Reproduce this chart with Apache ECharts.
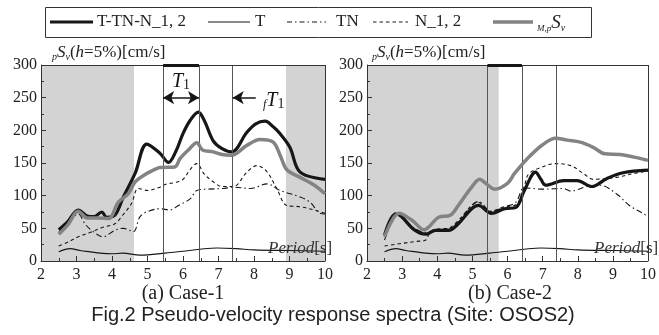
<!DOCTYPE html>
<html><head><meta charset="utf-8">
<script src="https://cdn.jsdelivr.net/npm/echarts@6/dist/echarts.min.js"></script>
<style>html,body{margin:0;padding:0;background:#fff}#c{width:659px;height:335px}</style>
</head><body><div id="c"></div>
<script>
// ---------- data ----------
const xRange = [2, 10];
const yRange = [0, 300];
const caseLabels = ['(a) Case-1', '(b) Case-2'];
const figCaption = 'Fig.2 Pseudo-velocity response spectra (Site: OSOS2)';

// thin line "T" (same for both cases)
const spec_T = [[2.5,14],[2.82,19],[3.1,16],[3.4,14],[3.66,12],[4.0,11],[4.3,12],[4.79,9],[5.5,12],[6.0,15],[6.48,18],[6.95,20],[7.5,19],[8.0,17],[9.0,16],[10,15]];

// Case-1
const case1_TTN = [[2.5,48],[2.75,60],[3.05,78],[3.3,69],[3.5,68],[3.71,75],[3.85,67],[4.08,70],[4.32,98],[4.65,134],[4.98,179],[5.35,165],[5.59,151],[5.8,168],[6.0,195],[6.2,215],[6.43,228],[6.6,215],[6.85,184],[7.1,172],[7.37,167],[7.8,197],[8.05,210],[8.31,214],[8.55,205],[8.73,195],[9.01,174],[9.3,136],[10,125]];
const case1_TN  = [[2.5,45],[2.77,57],[3.05,72],[3.25,56],[3.47,45],[3.75,37],[4.08,47],[4.32,50],[4.6,45],[4.79,68],[5.02,76],[5.35,80],[5.63,78],[5.87,85],[6.2,95],[6.39,108],[6.7,110],[7.13,111],[7.4,113],[7.9,111],[8.37,118],[8.73,108],[9.3,98],[9.58,90],[9.86,73],[10,72]];
const case1_N   = [[2.5,23],[2.8,30],[3.05,37],[3.4,44],[3.71,51],[4.08,57],[4.3,70],[4.55,88],[4.74,111],[5.0,108],[5.3,112],[5.54,118],[5.77,120],[6.0,125],[6.2,140],[6.39,149],[6.6,133],[6.86,121],[7.1,114],[7.42,114],[7.8,136],[8.08,146],[8.36,137],[8.64,111],[8.92,85],[9.3,83],[9.77,77],[10,73]];
const case1_M   = [[2.5,41],[2.75,55],[3.05,76],[3.3,66],[3.6,66],[3.9,65],[4.18,90],[4.46,103],[4.65,121],[4.98,134],[5.16,139],[5.35,143],[5.77,144],[5.92,157],[6.15,170],[6.39,181],[6.55,170],[6.85,167],[7.1,163],[7.37,162],[7.8,177],[8.17,186],[8.54,182],[8.75,160],[8.92,140],[9.3,128],[9.7,116],[10,103]];

// Case-2
const case2_TTN = [[2.5,40],[2.82,72],[2.98,68],[3.34,48],[3.67,41],[3.95,47],[4.32,47],[4.6,57],[4.98,80],[5.17,85],[5.54,73],[5.92,80],[6.24,82],[6.48,108],[6.8,136],[6.95,125],[7.09,116],[7.6,123],[7.98,123],[8.4,114],[8.82,126],[9.29,135],[10,139]];
const case2_TN  = [[2.5,32],[2.9,72],[3.3,52],[3.67,44],[4.0,48],[4.32,49],[4.6,60],[4.98,85],[5.17,91],[5.54,76],[5.92,83],[6.24,90],[6.48,112],[7.0,110],[7.6,111],[7.8,107],[8.26,114],[8.63,116],[9.1,103],[9.47,85],[9.85,73],[10,68]];
const case2_N   = [[2.5,23],[3.0,27],[3.4,30],[3.67,32],[3.8,45],[4.0,49],[4.3,50],[4.6,62],[4.98,85],[5.17,90],[5.5,76],[5.9,83],[6.24,86],[6.48,115],[6.6,133],[6.95,143],[7.37,149],[7.8,146],[8.16,134],[8.44,125],[9.1,128],[9.6,134],[10,138]];
const case2_M   = [[2.5,37],[2.92,73],[3.29,62],[3.62,48],[4.04,67],[4.37,70],[4.6,85],[4.98,113],[5.21,125],[5.4,118],[5.63,110],[6.0,119],[6.2,134],[6.57,157],[7.0,178],[7.37,188],[7.7,185],[8.07,182],[8.44,174],[8.77,164],[9.2,163],[9.6,159],[10,154]];

// shaded period ranges and vertical marker periods
const case1_shade = [[2,4.62],[8.9,10]];
const case2_shade = [[2,5.75]];
const case1_vlines = [5.44, 6.45, 7.4];
const case2_vlines = [5.43, 6.41, 7.38];
const arrowLevel = 250;
const case1_fT1_arrowFrom = 8.05;

// ---------- chart ----------
const SERIF = 'Liberation Serif';
const SANS = 'Liberation Sans';
const INK = '#161616';
const GRAY = '#838383';
const chart = echarts.init(document.getElementById('c'));

const grids = [
  {left: 41, top: 65, width: 284, height: 196},
  {left: 367, top: 65, width: 285, height: 196}
];

function xAxisFor(i) {
  return {
    gridIndex: i, type: 'value', min: xRange[0], max: xRange[1], interval: 1, z: 10,
    axisLine: {show: true, onZero: false, lineStyle: {color: '#333', width: 1}},
    axisTick: {show: true, inside: true, length: 5, lineStyle: {color: '#333'}},
    minorTick: {show: true, splitNumber: 2, length: 3, lineStyle: {color: '#333'}},
    splitLine: {show: false},
    axisLabel: {color: '#222', fontFamily: SERIF, fontSize: 16, margin: 6}
  };
}
function yAxisFor(i) {
  return {
    gridIndex: i, type: 'value', min: yRange[0], max: yRange[1], interval: 50, z: 10,
    axisLine: {show: true, lineStyle: {color: '#333', width: 1}},
    axisTick: {show: true, inside: true, length: 5, lineStyle: {color: '#333'}},
    minorTick: {show: true, splitNumber: 2, length: 3, lineStyle: {color: '#333'}},
    splitLine: {show: false},
    axisLabel: {color: '#222', fontFamily: SERIF, fontSize: 16, margin: 4}
  };
}

function curve(i, name, data, ls, z) {
  return {type: 'line', name, xAxisIndex: i, yAxisIndex: i, data, symbol: 'none', showSymbol: false,
    smooth: 0.35, lineStyle: ls, z, silent: true, animation: false};
}

function helpers(i, shade, vlines, withArrows) {
  const out = [];
  out.push({
    type: 'line', xAxisIndex: i, yAxisIndex: i, data: [[xRange[0], null]], symbol: 'none', z: 1, silent: true, animation: false,
    markArea: {silent: true, itemStyle: {color: '#d3d3d3'}, data: shade.map(s => [{xAxis: s[0]}, {xAxis: s[1]}])}
  });
  const ml = [];
  vlines.forEach(v => ml.push({xAxis: v, lineStyle: {color: '#555', width: 1, type: 'solid'}}));
  ml.push({xAxis: xRange[1], lineStyle: {color: '#333', width: 1, type: 'solid'}});
  ml.push({yAxis: yRange[1], lineStyle: {color: '#333', width: 1, type: 'solid'}});
  ml.push([{coord: [vlines[0], yRange[1]], lineStyle: {color: INK, width: 3, type: 'solid'}}, {coord: [vlines[1], yRange[1]]}]);
  if (withArrows) {
    ml.push([{coord: [vlines[0], arrowLevel], symbol: 'arrow', lineStyle: {color: INK, width: 1.5, type: 'solid'}},
             {coord: [vlines[1], arrowLevel], symbol: 'arrow'}]);
    ml.push([{coord: [case1_fT1_arrowFrom, arrowLevel], symbol: 'none', lineStyle: {color: INK, width: 1.5, type: 'solid'}},
             {coord: [vlines[2], arrowLevel], symbol: 'arrow'}]);
  }
  out.push({
    type: 'line', xAxisIndex: i, yAxisIndex: i, data: [[xRange[0], null]], symbol: 'none', z: 2, silent: true, animation: false,
    markLine: {silent: true, symbol: 'none', symbolSize: [10, 11], label: {show: false}, animation: false, data: ml}
  });
  return out;
}

function lineSet(i, TTN, TN, N, M) {
  return [
    curve(i, 'T', spec_T, {color: INK, width: 1.1}, 3),
    curve(i, 'TN', TN, {color: INK, width: 1.1, type: [6, 3, 1.5, 3]}, 3),
    curve(i, 'N_1, 2', N, {color: INK, width: 1.1, type: [3.5, 3]}, 3),
    curve(i, 'T-TN-N_1, 2', TTN, {color: INK, width: 3.2}, 4),
    curve(i, 'MpSv', M, {color: GRAY, width: 3.5}, 5)
  ];
}

// ---------- graphic (legend box, titles, captions) ----------
const ytitleRich = {
  p: {fontSize: 10, fontStyle: 'italic', fontFamily: SERIF, verticalAlign: 'bottom', lineHeight: 10, fill: '#222'},
  S: {fontSize: 17, fontStyle: 'italic', fontFamily: SERIF, lineHeight: 18, fill: '#222'},
  v: {fontSize: 10, fontStyle: 'italic', fontFamily: SERIF, verticalAlign: 'bottom', lineHeight: 10, fill: '#222'},
  n: {fontSize: 17, fontFamily: SERIF, lineHeight: 18, fill: '#222'},
  h: {fontSize: 17, fontStyle: 'italic', fontFamily: SERIF, lineHeight: 18, fill: '#222'}
};
const ytitleText = '{p|p}{S|S}{v|v}{n|(}{h|h}{n|=5%)[cm/s]}';

function txt(x, y, text, font, align, extra) {
  return Object.assign({type: 'text', x, y, silent: true, z: 20,
    style: {text, font, fill: '#222', align: align || 'left', verticalAlign: 'middle'}}, extra || {});
}
function seg(x1, x2, y, stroke, lw, dash) {
  return {type: 'line', silent: true, z: 20, shape: {x1, y1: y, x2, y2: y}, style: {stroke, lineWidth: lw, lineDash: dash || null}};
}

const LY = 22;
const graphic = [
  {type: 'rect', silent: true, z: 19, shape: {x: 45.5, y: 7.5, width: 546, height: 30}, style: {fill: '#fff', stroke: '#333', lineWidth: 1}},
  seg(50, 93, LY, INK, 3.2),
  txt(97, LY, 'T-TN-N_1, 2', '17px "Liberation Serif"'),
  seg(208, 250, LY, INK, 1.2),
  txt(255, LY, 'T', '17px "Liberation Serif"'),
  seg(287, 326, LY, INK, 1.2, [5, 3, 1.5, 3]),
  txt(336, LY, 'TN', '17px "Liberation Serif"'),
  seg(373, 408, LY, INK, 1.2, [3.5, 3]),
  txt(415, LY, 'N_1, 2', '17px "Liberation Serif"'),
  seg(493, 533, LY, GRAY, 3.5),
  {type: 'text', x: 537, y: LY + 1, silent: true, z: 20, style: {
    text: '{mp|M,p}{S|S}{v|v}', verticalAlign: 'middle', align: 'left',
    rich: {
      mp: {fontSize: 9, fontStyle: 'italic', fontFamily: SERIF, verticalAlign: 'bottom', lineHeight: 10, fill: '#222'},
      S: {fontSize: 19, fontStyle: 'italic', fontFamily: SERIF, lineHeight: 20, fill: '#222'},
      v: {fontSize: 10, fontStyle: 'italic', fontFamily: SERIF, verticalAlign: 'bottom', lineHeight: 10, fill: '#222'}
    }}},
  // y-axis titles
  {type: 'text', x: 52, y: 53, silent: true, z: 20, style: {text: ytitleText, rich: ytitleRich, verticalAlign: 'middle'}},
  {type: 'text', x: 372, y: 53, silent: true, z: 20, style: {text: ytitleText, rich: ytitleRich, verticalAlign: 'middle'}},
  // Period[s]
  {type: 'text', x: 268, y: 249, silent: true, z: 20, style: {text: '{i|Period}{n|[s]}', verticalAlign: 'middle',
    rich: {i: {fontSize: 17, fontStyle: 'italic', fontFamily: SERIF, fill: '#333'}, n: {fontSize: 17, fontFamily: SERIF, fill: '#333'}}}},
  {type: 'text', x: 594, y: 249, silent: true, z: 20, style: {text: '{i|Period}{n|[s]}', verticalAlign: 'middle',
    rich: {i: {fontSize: 17, fontStyle: 'italic', fontFamily: SERIF, fill: '#333'}, n: {fontSize: 17, fontFamily: SERIF, fill: '#333'}}}},
  // T1 annotations
  {type: 'text', x: 172, y: 82, silent: true, z: 20, style: {text: '{T|T}{s|1}', verticalAlign: 'middle',
    rich: {T: {fontSize: 20, fontStyle: 'italic', fontFamily: SERIF, lineHeight: 20, fill: INK}, s: {fontSize: 14, fontFamily: SERIF, verticalAlign: 'bottom', lineHeight: 14, fill: INK}}}},
  {type: 'text', x: 263, y: 101, silent: true, z: 20, style: {text: '{f|f}{T|T}{s|1}', verticalAlign: 'middle',
    rich: {f: {fontSize: 12, fontStyle: 'italic', fontFamily: SERIF, verticalAlign: 'bottom', lineHeight: 10, fill: INK},
           T: {fontSize: 20, fontStyle: 'italic', fontFamily: SERIF, lineHeight: 20, fill: INK}, s: {fontSize: 14, fontFamily: SERIF, verticalAlign: 'bottom', lineHeight: 14, fill: INK}}}},
  // captions
  txt(183, 294, caseLabels[0], '20px "Liberation Serif"', 'center'),
  txt(510, 294, caseLabels[1], '20px "Liberation Serif"', 'center'),
  txt(333, 315, figCaption, '20px "Liberation Sans"', 'center')
];

chart.setOption({
  animation: false,
  backgroundColor: '#fff',
  grid: grids,
  xAxis: [xAxisFor(0), xAxisFor(1)],
  yAxis: [yAxisFor(0), yAxisFor(1)],
  series: [].concat(
    helpers(0, case1_shade, case1_vlines, true),
    helpers(1, case2_shade, case2_vlines, false),
    lineSet(0, case1_TTN, case1_TN, case1_N, case1_M),
    lineSet(1, case2_TTN, case2_TN, case2_N, case2_M)
  ),
  graphic
});
</script></body></html>
